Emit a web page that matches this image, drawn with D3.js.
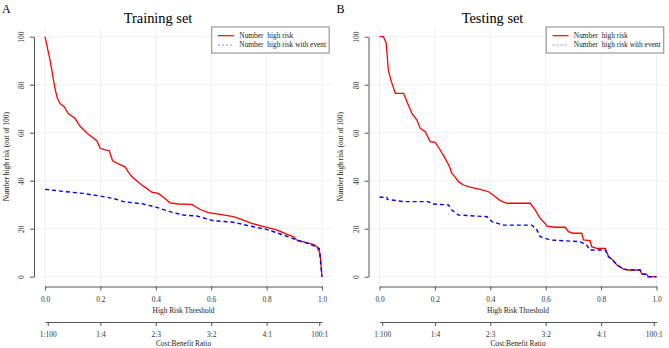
<!DOCTYPE html>
<html>
<head>
<meta charset="utf-8">
<script src="https://cdn.jsdelivr.net/npm/d3@7"></script>
<style>
  body { margin: 0; background: #fff; }
  svg { display: block; font-family: "Liberation Serif", "Times New Roman", serif; }
</style>
</head>
<body>
<svg id="chart" width="669" height="348"></svg>
<script>
// ----- data -----
let panelLetters = ["A", "B"];
let panelTitles = ["Training set", "Testing set"];
let legendLabels = ["Number  high risk", "Number  high risk with event"];
let xTicks = [0, 0.2, 0.4, 0.6, 0.8, 1.0];
let yTicks = [0, 20, 40, 60, 80, 100];
let costLabels = ["1:100", "1:4", "2:3", "3:2", "4:1", "100:1"];
let costThresholds = [1 / 101, 0.2, 0.4, 0.6, 0.8, 100 / 101];

// training set
let trainRiskT = [0, 0.018, 0.036, 0.044, 0.054, 0.069, 0.084, 0.108, 0.126, 0.153, 0.187, 0.199, 0.217, 0.232, 0.244, 0.265, 0.289, 0.300, 0.313, 0.349, 0.367, 0.385, 0.409, 0.433, 0.451, 0.481, 0.530, 0.560, 0.590, 0.632, 0.680, 0.716, 0.746, 0.800, 0.836, 0.872, 0.896, 0.912, 0.945, 0.970, 0.981, 0.993, 1.0];
let trainRisk = [100, 90.3, 78.5, 74.6, 72.2, 70.8, 68, 66, 62.8, 59.7, 56.7, 53.5, 52.8, 52.5, 48.3, 47, 45.8, 43.8, 41.7, 38.2, 36.8, 35.2, 34.7, 32.6, 30.8, 30.3, 30.1, 28, 26.7, 26, 25, 23.6, 22.2, 20.6, 19.5, 17.7, 16.7, 15, 14.2, 13.4, 12.6, 9.7, 0];
let trainEventT = [0, 0.078, 0.138, 0.199, 0.247, 0.283, 0.355, 0.403, 0.451, 0.499, 0.548, 0.608, 0.680, 0.740, 0.800, 0.860, 0.909, 0.957, 0.990, 1.0];
let trainEvent = [36.4, 35.4, 34.7, 33.6, 32.6, 31.3, 30.3, 28.9, 27.1, 25.7, 25.3, 23.3, 22.7, 21.1, 19.7, 17.4, 15.3, 13.6, 11.8, 0];

// testing set
let testRiskT = [0, 0.014, 0.024, 0.032, 0.041, 0.057, 0.087, 0.099, 0.117, 0.135, 0.147, 0.165, 0.183, 0.201, 0.219, 0.237, 0.253, 0.261, 0.267, 0.285, 0.303, 0.327, 0.363, 0.394, 0.418, 0.436, 0.460, 0.544, 0.562, 0.580, 0.598, 0.604, 0.634, 0.670, 0.682, 0.700, 0.730, 0.736, 0.760, 0.766, 0.784, 0.815, 0.827, 0.842, 0.857, 0.881, 0.899, 0.941, 0.947, 0.965, 0.970, 1.0];
let testRisk = [100, 100, 97.5, 86, 82, 76.4, 76.4, 72.9, 68, 65.3, 61.8, 60.4, 56.3, 56, 52.8, 49.3, 45.8, 43, 42.4, 39.6, 38.2, 37.3, 36.4, 35.4, 33.3, 31.7, 30.6, 30.6, 27.8, 24.3, 22.2, 21.1, 20.6, 20.6, 18.8, 18.1, 18.1, 15.3, 15, 12.5, 11.8, 11.8, 8.3, 7, 4.9, 3.2, 2.8, 2.8, 1.1, 1.0, 0, 0];
let testEventT = [0, 0.026, 0.028, 0.087, 0.177, 0.189, 0.249, 0.261, 0.285, 0.388, 0.406, 0.448, 0.550, 0.568, 0.580, 0.616, 0.724, 0.748, 0.760, 0.815, 0.827, 0.842, 0.857, 0.881, 0.899, 0.941, 0.947, 0.965, 0.970, 1.0];
let testEvent = [33.1, 33.1, 32.2, 31.3, 31.3, 30.3, 29.9, 27.8, 25.7, 25, 22.9, 21.5, 21.5, 19.5, 16.7, 15.3, 14.6, 13.2, 11.1, 11.1, 8.3, 7, 4.9, 3.2, 2.8, 2.8, 1.1, 1.0, 0, 0];

let panels = [
  { risk: d3.zip(trainRiskT, trainRisk), event: d3.zip(trainEventT, trainEvent) },
  { risk: d3.zip(testRiskT, testRisk), event: d3.zip(testEventT, testEvent) }
];

// ----- drawing -----
let svg = d3.select("#chart");
let xScale = d3.scaleLinear().domain([0, 1]).range([45, 322]);
let yScale = d3.scaleLinear().domain([0, 100]).range([276.7, 36.7]);
let plotLeft = 34, plotRight = 333, plotTop = 27, plotBottom = 286.5;
let axisColor = "#555";
let small = 7.4;

let lineGen = d3.line()
  .x(d => xScale(d[0]))
  .y(d => yScale(d[1]));

panels.forEach((p, i) => {
  let g = svg.append("g").attr("transform", `translate(${i * 334.5},0)`);

  // grid
  g.selectAll(".vgrid").data(xTicks).enter().append("line")
    .attr("x1", d => xScale(d)).attr("x2", d => xScale(d))
    .attr("y1", plotTop).attr("y2", plotBottom)
    .attr("stroke", "#efefef").attr("stroke-width", 1);
  g.selectAll(".hgrid").data(yTicks).enter().append("line")
    .attr("x1", plotLeft).attr("x2", plotRight)
    .attr("y1", d => yScale(d)).attr("y2", d => yScale(d))
    .attr("stroke", "#efefef").attr("stroke-width", 1);

  // lines: red first, blue dashed on top
  g.append("path").datum(p.risk)
    .attr("fill", "none").attr("stroke", "#ff0000").attr("stroke-width", 1.3)
    .attr("d", lineGen);
  g.append("path").datum(p.event)
    .attr("fill", "none").attr("stroke", "#0000ff").attr("stroke-width", 1.4)
    .attr("stroke-dasharray", "4,3")
    .attr("d", lineGen);

  // y axis
  let yAxis = g.append("g").attr("transform", `translate(${plotLeft},0)`)
    .call(d3.axisLeft(yScale).tickValues(yTicks).tickSize(4).tickSizeOuter(0).tickPadding(3));
  yAxis.select(".domain").attr("stroke", axisColor);
  yAxis.selectAll(".tick line").attr("stroke", axisColor);
  yAxis.selectAll(".tick text")
    .attr("font-family", "Liberation Serif").attr("font-size", small).attr("fill", "#333")
    .attr("text-anchor", "middle").attr("x", 0).attr("dy", 0)
    .attr("transform", "translate(-10,0) rotate(-90)");

  // x axis
  let xAxis = g.append("g").attr("transform", `translate(0,${plotBottom})`)
    .call(d3.axisBottom(xScale).tickValues(xTicks).tickFormat(d3.format(".1f")).tickSize(4).tickSizeOuter(0).tickPadding(6));
  xAxis.select(".domain").attr("stroke", axisColor);
  xAxis.selectAll(".tick line").attr("stroke", axisColor);
  xAxis.selectAll(".tick text").attr("font-family", "Liberation Serif").attr("font-size", small).attr("fill", "#333");

  // cost:benefit axis
  let cAxis = g.append("g").attr("transform", "translate(0,322)")
    .call(d3.axisBottom(xScale).tickValues(costThresholds).tickFormat((d, k) => costLabels[k]).tickSize(4).tickSizeOuter(0).tickPadding(6));
  cAxis.select(".domain").attr("stroke", axisColor);
  cAxis.selectAll(".tick line").attr("stroke", axisColor);
  cAxis.selectAll(".tick text").attr("font-family", "Liberation Serif").attr("font-size", small).attr("fill", "#333");

  // axis titles
  g.append("text").attr("x", xScale(0.5)).attr("y", 313)
    .attr("text-anchor", "middle").attr("font-size", small).attr("fill", "#222")
    .text("High Risk Threshold");
  g.append("text").attr("x", xScale(0.5)).attr("y", 346)
    .attr("text-anchor", "middle").attr("font-size", small).attr("fill", "#222")
    .text("Cost:Benefit Ratio");
  g.append("text")
    .attr("transform", `translate(8.5,${yScale(50)}) rotate(-90)`)
    .attr("text-anchor", "middle").attr("font-size", small).attr("fill", "#222")
    .text("Number high risk (out of 100)");

  // title and panel letter
  g.append("text").attr("x", 158).attr("y", 23)
    .attr("text-anchor", "middle").attr("font-size", 14.4).attr("fill", "#000")
    .text(panelTitles[i]);
  g.append("text").attr("x", 2).attr("y", 13)
    .attr("font-size", 12).attr("fill", "#000")
    .text(panelLetters[i]);

  // legend
  let lg = g.append("g");
  lg.append("rect").attr("x", 211.7).attr("y", 27).attr("width", 117.5).attr("height", 26)
    .attr("fill", "#fff").attr("stroke", "#999").attr("stroke-width", 1.2);
  let rows = lg.selectAll(".lrow").data(legendLabels).enter().append("g")
    .attr("transform", (d, k) => `translate(0,${35.7 + k * 9.3})`);
  rows.append("line").attr("x1", 218).attr("x2", 234).attr("y1", 0).attr("y2", 0)
    .attr("stroke", (d, k) => k === 0 ? "#ff0000" : "#8a8aff")
    .attr("stroke-width", (d, k) => k === 0 ? 1.2 : 1)
    .attr("stroke-dasharray", (d, k) => k === 0 ? null : "2,2");
  rows.append("text").attr("x", 239.3).attr("y", 2.4)
    .attr("font-size", small).attr("fill", "#222")
    .style("white-space", "pre")
    .text(d => d);
});
</script>
</body>
</html>
